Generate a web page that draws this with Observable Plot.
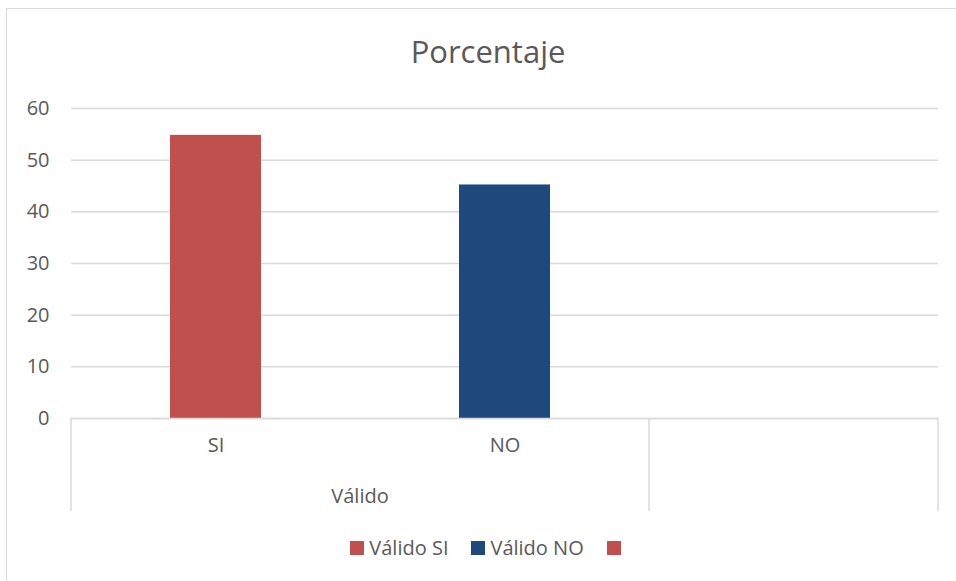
<!DOCTYPE html>
<html><head><meta charset="utf-8">
<script src="https://cdn.jsdelivr.net/npm/d3@7"></script>
<script src="https://cdn.jsdelivr.net/npm/@observablehq/plot@0.6"></script>
<style>
body{margin:0;background:#fff;font-family:"Open Sans",Lato,sans-serif;}
#wrap{position:relative;width:956px;height:581px;overflow:hidden;background:#fff;}
#frame{position:absolute;left:6px;top:8px;width:1000px;height:1000px;border-left:1.5px solid #d9d9d9;border-top:1.5px solid #d9d9d9;}
#title{position:absolute;left:7px;width:962px;top:31px;text-align:center;font-size:31px;color:#595959;line-height:40px;}
#chart{position:absolute;left:0;top:0;}
#legend{position:absolute;left:7px;width:962px;top:537px;display:flex;justify-content:center;align-items:center;font-size:20px;color:#595959;line-height:22px;}
.item{display:flex;align-items:center;margin:0 11.5px;}
.sw{width:14px;height:14px;margin-right:5px;}
</style></head>
<body><div id="wrap"><div id="frame"></div><div id="title"></div><div id="chart"></div><div id="legend"></div></div>
<script>
const title = "Porcentaje";
const categories = ["SI", "NO", " "];
const groupLabel = "Válido";
const groupSize = 2;
const values = [54.8, 45.2, null];
const seriesNames = ["Válido SI", "Válido NO", ""];
const colors = ["#C0504D", "#1F497D", "#C0504D"];
const yTicks = [0, 10, 20, 30, 40, 50, 60];

document.getElementById("title").textContent = title;
const rows = categories.map((c, i) => ({cat: c, value: values[i]})).filter(d => d.value != null);

const plot = Plot.plot({
  width: 956, height: 520,
  marginLeft: 71, marginRight: 18, marginTop: 108, marginBottom: 102,
  style: {fontFamily: "'Open Sans', Lato, sans-serif", fontSize: "20px", color: "#595959", background: "transparent", overflow: "visible"},
  x: {domain: categories, paddingInner: 0.685, paddingOuter: 0.3425, axis: null},
  y: {domain: [0, 60], axis: null},
  color: {domain: categories, range: colors},
  marks: [
    Plot.gridY(yTicks, {stroke: "#d9d9d9", strokeOpacity: 1, strokeWidth: 1.5}),
    Plot.axisY(yTicks, {tickSize: 0, tickPadding: 22, fontSize: 20, fill: "#595959", label: null}),
    Plot.barY(rows, {x: "cat", y: "value", fill: "cat"}),
    Plot.ruleY([0], {stroke: "#d9d9d9", strokeWidth: 1.5}),
    Plot.text(categories, {x: d => d, frameAnchor: "bottom", dy: 33, fontSize: 20, fill: "#595959"})
  ]
});
document.getElementById("chart").appendChild(plot);

// multi-level category axis separators and group label, from the plot's scales
const xs = plot.scale("x"), ys = plot.scale("y");
const n = categories.length;
const r0 = xs.range[0], r1 = xs.range[1];
const step = (r1 - r0) / n;
const y0 = ys.apply(0);
const svg = d3.select(plot);
const bounds = [0, groupSize, n];
svg.append("g").selectAll("line").data(bounds).join("line")
  .attr("x1", i => r0 + i * step).attr("x2", i => r0 + i * step)
  .attr("y1", y0).attr("y2", y0 + 93)
  .attr("stroke", "#d9d9d9").attr("stroke-width", 1.5);
svg.append("text").text(groupLabel)
  .attr("x", r0 + groupSize * step / 2).attr("y", y0 + 78.5)
  .attr("text-anchor", "middle").attr("dy", "0.32em")
  .attr("font-size", 20).attr("fill", "#595959");

// legend
const leg = document.getElementById("legend");
seriesNames.forEach((s, i) => {
  const it = document.createElement("div"); it.className = "item";
  const sw = document.createElement("div"); sw.className = "sw"; sw.style.background = colors[i];
  it.appendChild(sw);
  if (s) { const t = document.createElement("span"); t.textContent = s; it.appendChild(t); }
  leg.appendChild(it);
});
</script></body></html>
